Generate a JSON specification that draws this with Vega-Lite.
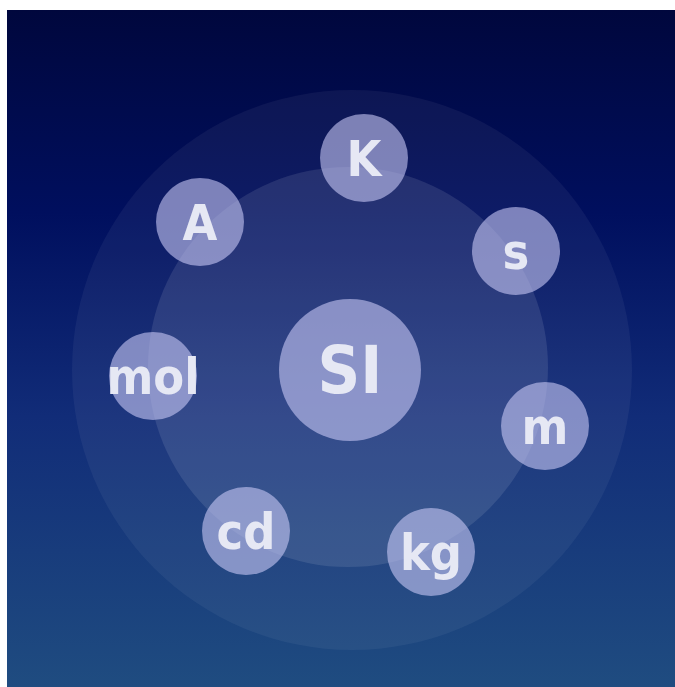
{
  "$schema": "https://vega.github.io/schema/vega-lite/v6.json",
  "width": 668,
  "height": 677,
  "autosize": {"type": "none"},
  "padding": {"left": 7, "top": 10, "right": 0, "bottom": 0},
  "background": "#ffffff",
  "config": {"view": {"stroke": null}},
  "data": {
    "values": [
      {"kind": "outer", "label": "", "x": 345, "y": 360, "r": 280},
      {"kind": "inner", "label": "", "x": 341, "y": 357, "r": 200},
      {"kind": "center", "label": "SI", "x": 343, "y": 360, "r": 71},
      {"kind": "unit", "label": "K", "x": 357, "y": 148, "r": 44},
      {"kind": "unit", "label": "s", "x": 509, "y": 241, "r": 44},
      {"kind": "unit", "label": "m", "x": 538, "y": 416, "r": 44},
      {"kind": "unit", "label": "kg", "x": 424, "y": 542, "r": 44},
      {"kind": "unit", "label": "cd", "x": 239, "y": 521, "r": 44},
      {"kind": "unit", "label": "mol", "x": 146, "y": 366, "r": 44},
      {"kind": "unit", "label": "A", "x": 193, "y": 212, "r": 44}
    ]
  },
  "layer": [
    {
      "data": {"values": [{}]},
      "mark": {
        "type": "rect",
        "color": {
          "gradient": "linear",
          "x1": 0, "y1": 0, "x2": 0, "y2": 1,
          "stops": [
            {"offset": 0, "color": "#00073d"},
            {"offset": 0.3, "color": "#000f5e"},
            {"offset": 0.6, "color": "#112c78"},
            {"offset": 1, "color": "#1f4c80"}
          ]
        }
      },
      "encoding": {
        "x": {"datum": 0, "type": "quantitative", "scale": {"domain": [0, 668], "nice": false, "zero": false}, "axis": null},
        "x2": {"datum": 668},
        "y": {"datum": 0, "type": "quantitative", "scale": {"domain": [0, 677], "nice": false, "zero": false, "reverse": true}, "axis": null},
        "y2": {"datum": 677}
      }
    },
    {
      "transform": [{"filter": "datum.kind === 'outer'"}],
      "mark": {"type": "circle", "color": "#ffffff", "opacity": 0.05},
      "encoding": {
        "x": {"field": "x", "type": "quantitative"},
        "y": {"field": "y", "type": "quantitative"},
        "size": {"field": "r", "type": "quantitative", "scale": {"type": "pow", "exponent": 2, "domain": [0, 280], "range": [0, 313600]}, "legend": null}
      }
    },
    {
      "transform": [{"filter": "datum.kind === 'inner'"}],
      "mark": {"type": "circle", "color": "#ffffff", "opacity": 0.1},
      "encoding": {
        "x": {"field": "x", "type": "quantitative"},
        "y": {"field": "y", "type": "quantitative"},
        "size": {"field": "r", "type": "quantitative", "legend": null}
      }
    },
    {
      "transform": [{"filter": "datum.kind === 'center' || datum.kind === 'unit'"}],
      "mark": {"type": "circle", "color": "#c8c8f5", "opacity": 0.6},
      "encoding": {
        "x": {"field": "x", "type": "quantitative"},
        "y": {"field": "y", "type": "quantitative"},
        "size": {"field": "r", "type": "quantitative", "legend": null}
      }
    },
    {
      "transform": [{"filter": "datum.kind === 'unit'"}],
      "mark": {"type": "text", "font": "DejaVu Sans Condensed, Roboto", "fontWeight": "bold", "fontSize": 50, "color": "#e6e8f4", "baseline": "middle", "align": "center", "dy": 3},
      "encoding": {
        "x": {"field": "x", "type": "quantitative"},
        "y": {"field": "y", "type": "quantitative"},
        "text": {"field": "label"}
      }
    },
    {
      "transform": [{"filter": "datum.kind === 'center'"}],
      "mark": {"type": "text", "font": "DejaVu Sans Condensed, Roboto", "fontWeight": "bold", "fontSize": 66, "color": "#e6e8f4", "baseline": "middle", "align": "center", "dy": 3},
      "encoding": {
        "x": {"field": "x", "type": "quantitative"},
        "y": {"field": "y", "type": "quantitative"},
        "text": {"field": "label"}
      }
    }
  ]
}
